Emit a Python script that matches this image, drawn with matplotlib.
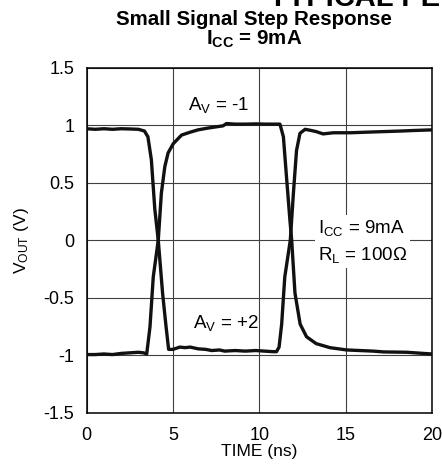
"""
Small signal step response, I_CC = 9mA: output voltage vs time for
A_V = -1 and A_V = +2 (R_L = 100 ohm).
"""

import matplotlib
matplotlib.use('Agg')
import matplotlib.pyplot as plt

plt.rcParams['font.family'] = ['Liberation Sans', 'DejaVu Sans']
plt.rcParams['mathtext.default'] = 'regular'

# A_V = -1 trace (starts high, falls, rises again)
t_inv = [0.0, 0.5, 1.0, 1.5, 2.0, 2.5, 3.0, 3.35, 3.55, 3.75, 3.95, 4.15,
         4.4, 4.6, 4.75, 5.0, 5.4, 5.7, 6.0, 6.45, 6.9, 7.25, 7.7, 8.0,
         8.6, 9.2, 9.8, 10.3, 10.8, 11.0, 11.15, 11.3, 11.48, 11.8, 11.98,
         12.16, 12.36, 12.66, 13.0, 13.3, 13.7, 14.3, 15.3, 16.2, 17.2,
         18.2, 19.0, 20.0]
v_inv = [0.97, 0.965, 0.97, 0.965, 0.97, 0.968, 0.965, 0.95, 0.90, 0.70,
         0.27, 0.0, -0.46, -0.75, -0.95, -0.95, -0.93, -0.935, -0.93,
         -0.945, -0.95, -0.96, -0.955, -0.965, -0.96, -0.965, -0.96, -0.965,
         -0.97, -0.97, -0.93, -0.73, -0.32, 0.0, 0.41, 0.78, 0.93, 0.965,
         0.955, 0.945, 0.925, 0.935, 0.935, 0.94, 0.945, 0.95, 0.955, 0.96]

# A_V = +2 trace (starts low, rises, falls again)
t_ni = [0.0, 0.5, 1.0, 1.5, 2.0, 2.5, 3.0, 3.3, 3.48, 3.67, 3.86, 4.15,
        4.33, 4.53, 4.72, 5.02, 5.5, 6.0, 6.45, 7.0, 7.44, 7.9, 8.1, 8.6,
        9.2, 9.8, 10.4, 11.0, 11.2, 11.4, 11.58, 11.78, 11.88, 12.07,
        12.37, 12.74, 13.3, 14.1, 15.07, 16.6, 17.2, 18.55, 19.5, 20.0]
v_ni = [-0.995, -0.995, -0.99, -0.995, -0.985, -0.98, -0.975, -0.98, -0.99,
        -0.755, -0.32, 0.0, 0.41, 0.64, 0.76, 0.84, 0.915, 0.94, 0.96,
        0.975, 0.985, 0.995, 1.015, 1.01, 1.01, 1.012, 1.01, 1.01, 1.01,
        0.9, 0.55, 0.17, 0.0, -0.46, -0.73, -0.84, -0.9, -0.935, -0.955,
        -0.965, -0.972, -0.975, -0.985, -0.99]

x_ticks = [0, 5, 10, 15, 20]
y_ticks = [-1.5, -1, -0.5, 0, 0.5, 1, 1.5]
y_tick_labels = ['-1.5', '-1', '-0.5', '0', '0.5', '1', '1.5']

fig = plt.figure(figsize=(4.42, 4.71), dpi=100)
ax = fig.add_axes([0.196, 0.124, 0.781, 0.732])

ax.plot(t_inv, v_inv, color='#111111', lw=2.4, solid_joinstyle='round',
        zorder=3)
ax.plot(t_ni, v_ni, color='#111111', lw=2.4, solid_joinstyle='round',
        zorder=3)

ax.set_xlim(0, 20)
ax.set_ylim(-1.5, 1.5)
ax.set_xticks(x_ticks)
ax.set_yticks(y_ticks)
ax.set_yticklabels(y_tick_labels)
ax.tick_params(length=0, labelsize=13)
ax.tick_params(axis='x', pad=10.5)
ax.tick_params(axis='y', pad=9)
ax.grid(True, color='#404040', lw=0.8, zorder=1)
for sp in ax.spines.values():
    sp.set_linewidth(1.1)

ax.set_xlabel('TIME (ns)', fontsize=12.5, va='center')
ax.xaxis.set_label_coords(0.5, -0.114)
ax.set_ylabel('$V_{OUT}$ (V)', fontsize=12.5, va='center')
ax.yaxis.set_label_coords(-0.19, 0.5)

ax.text(5.87, 1.18, '$A_V$ = -1', fontsize=13.5, va='center', ha='left')
ax.text(6.14, -0.72, '$A_V$ = +2', fontsize=13.5, va='center', ha='left')
ax.text(13.4, -0.01, '$I_{CC}$ = 9mA\n$R_L$ = 100Ω', fontsize=13.5,
        va='center', ha='left', linespacing=1.45,
        bbox=dict(facecolor='white', edgecolor='none', pad=2), zorder=4)

fig.text(0.575, 0.958, 'Small Signal Step Response', fontsize=14.8,
         fontweight='bold', ha='center', va='center')
fig.text(0.575, 0.916, '$I_{CC}$ = 9mA', fontsize=14.8,
         fontweight='bold', ha='center', va='center')
fig.text(0.609, 0.987, 'TYPICAL PERFORMANCE CURVES', fontsize=21,
         fontweight='bold', ha='left', va='baseline')

fig.savefig('out.png', dpi=100)
